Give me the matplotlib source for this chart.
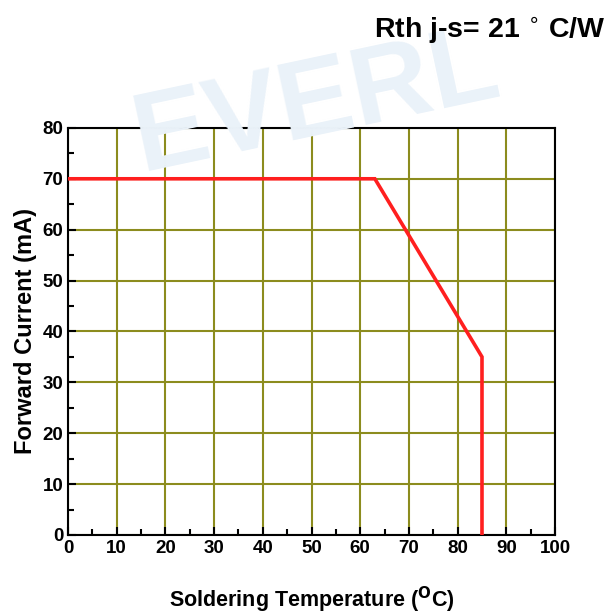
import matplotlib
matplotlib.use("Agg")
import matplotlib.pyplot as plt
from matplotlib.ticker import MultipleLocator

plt.rcParams['font.family'] = ['Liberation Sans', 'DejaVu Sans']

# Derating curve: soldering temperature (C) vs forward current (mA)
temp_c = [0, 63, 85, 85]
current_ma = [70, 70, 35, 0]

x_ticks = [0, 10, 20, 30, 40, 50, 60, 70, 80, 90, 100]
y_ticks = [0, 10, 20, 30, 40, 50, 60, 70, 80]

fig = plt.figure(figsize=(6.09, 6.14), dpi=100)

# faint logo watermark behind the plot
fig.text(0.52, 0.83, 'EVERL', fontsize=80, fontweight='bold', color='#eaf2f9',
         rotation=12, ha='center', va='center', zorder=0)

ax = fig.add_axes([0.1117, 0.1287, 0.7997, 0.663])
ax.set_facecolor('none')

ax.plot(temp_c, current_ma, color='#ff1f1f', lw=2.6, zorder=3, solid_joinstyle='miter')

ax.set_xlim(0, 100)
ax.set_ylim(0, 80)
ax.set_xticks(x_ticks)
ax.set_yticks(y_ticks)
ax.xaxis.set_minor_locator(MultipleLocator(5))
ax.yaxis.set_minor_locator(MultipleLocator(5))
ax.grid(True, which='major', color='#8c8c1e', lw=1.5, zorder=1)

ax.tick_params(which='both', direction='in', top=False, right=False, width=1.5)
ax.tick_params(which='major', length=6)
ax.tick_params(which='minor', length=4)
for lab in ax.get_xticklabels() + ax.get_yticklabels():
    lab.set_fontweight('bold')
    lab.set_fontsize(13.5)
for s in ax.spines.values():
    s.set_linewidth(1.5)

ax.set_xlabel('Soldering Temperature ($\\mathbf{^{O}}$C)', fontsize=15.5, fontweight='bold', labelpad=20)
ax.set_ylabel('Forward Current (mA)', fontsize=17, fontweight='bold', labelpad=4)

fig.text(0.995, 0.95, 'Rth j-s= 21 $^{\\circ}$ C/W', fontsize=20.5, fontweight='bold',
         ha='right', va='center')

fig.savefig('out.png', dpi=100)
